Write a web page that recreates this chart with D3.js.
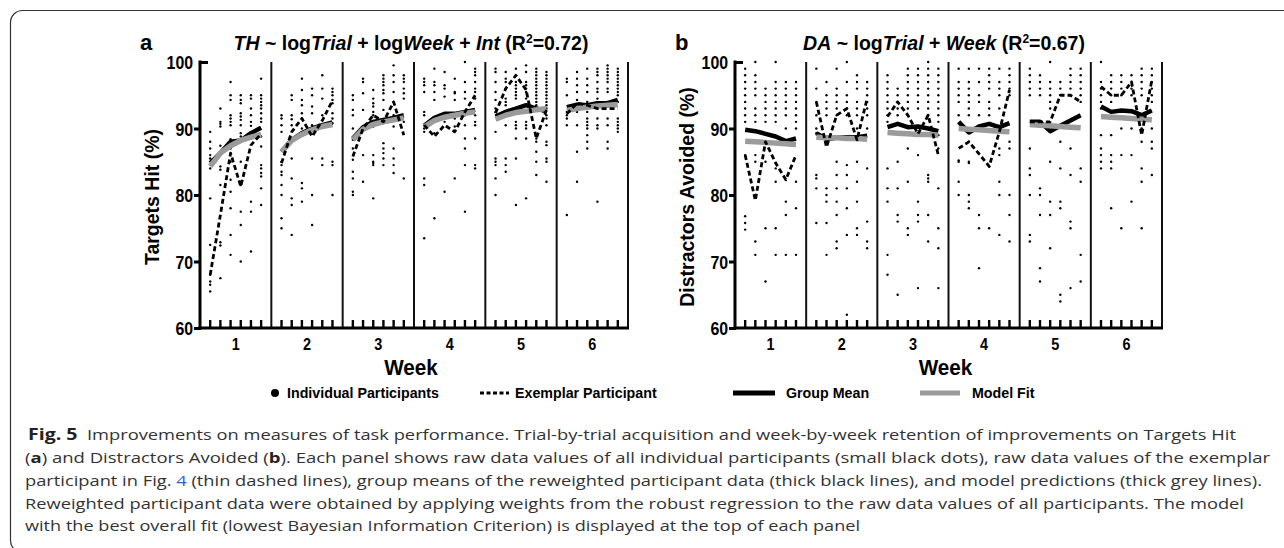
<!DOCTYPE html>
<html><head><meta charset="utf-8">
<script src="https://cdn.jsdelivr.net/npm/d3@7"></script>
<style>body{margin:0;background:#fff}svg{display:block}</style>
</head><body><svg id="c" width="1284" height="548"></svg>
<script>
// ---------- DATA ----------
const weeks = [1, 2, 3, 4, 5, 6];
const trials = [1, 2, 3, 4, 5, 6];
const yTicks = [60, 70, 80, 90, 100];

// Panel a: Targets Hit (%) — individual participant dots [week][trial]
const thDots = [
  [[89.5,88,87,86,85.5,84,79.5,72.5,68,67,66.5,65.5],
   [93,91,90.7,90.3,87.4,84.3,83.8,81.5,72.9,72.4,67.5],
   [97,95,94.3,92,91.5,91,90.5,88.4,87,85,82.3,80.5,78,74,71],
   [95,94.3,93.8,92.3,91.8,91.3,90.5,89.3,88.8,85,81.5,77.5,75.5,70],
   [95,94.5,93,92,91,90.4,88.5,79,77.5,71.5],
   [97.5,95,94.5,94,93.5,93,92.3,91.5,91,88.8,87.3,84.5,84,83.3,82.8,81,78.5]],
  [[92,91.5,90.5,89.5,85,84.5,83.5,83,81.5,80,76.5,75],
   [95,94.3,92,91.4,90.5,85.5,82.5,79.5,78.5,74],
   [97.5,95.8,94.3,93.5,92.3,91.5,90,81.8,81,79],
   [96,95,93.3,92.3,90.5,85.5,80,75.5],
   [98,96,94.5,92,90.3,85.5,84.5],
   [96,95.5,95,94.3,93.8,92.3,91.5,90.8,85,84.5,80]],
  [[95,94.3,92.8,92,90,88.3,87,85.3,83.5,82.5,80.5,80],
   [97.5,97,95.3,92.8,86,82],
   [95.8,94.5,93.8,93.3,92.5,92,90.3,86,85,84.8,84.5,79.5],
   [98,97.5,97,96.5,95.8,95.3,94.3,92.8,87.8,87,86.3,85.5,84.5],
   [99.5,98,97,95.5,94,92,90.3,87,85.5,84.5,83.3],
   [98,97.5,97,96,95.3,94.5,91,82.5]],
  [[97.5,97,96.5,95.5,92.5,92,90.5,90,89.5,82.5,81.5,73.5],
   [99,97,96.5,95.5,94.3,89.3,76.5],
   [98.5,96.5,96,94.8,92,91,80.5],
   [97.5,95.5,95.3,94.3,92,91.5,90.3,82.5],
   [100,97,95.5,94.5,92,90.5,88.5,87,84.5,77.5],
   [99,98.5,98,97,96,95.5,94.5,92,91,90.5,88.5,84.5,84]],
  [[99,98.5,97,95.5,94.3,93,92.5,89.5,85.5,85,84.5,82.5,80],
   [98.5,97.5,97,96,94.5,94,93.5,90.5,85.5,84.5,83.5],
   [99,97,96.5,96,95.5,95,94.5,91,90.5,90,88.5,85.5,78.5],
   [99.5,98.5,97,96.5,96,95.5,94.5,91,90.5,90,88.5,79.5],
   [99,98.5,98,97.5,97,96.5,96,95.5,95,94.5,94,93.5,88.5,88,86.5,85,83],
   [98.5,98,97.5,97,96.5,96,95.5,95,94.5,94,93.5,93,92,91.5,90.5,88,87.5,85.5,85,82]],
  [[97.5,97,95,92.5,92,91.5,90.5,77],
   [98.5,97.5,96.5,95.5,94.3,92.5,90.5,86.5,82],
   [99,97.5,96.5,95.5,94,92.5,91.5,91,90.5,90,89,88,87],
   [99,98.5,98,97,96,95.5,94.5,91.5,90.5,90,79],
   [99.5,99,98.5,98,97.5,97,96,95.5,94,91.5,90.5,88,87],
   [99,98.5,98,97.5,97,96.5,96,95.5,95,94,91.5,91,90.5,90,89.5]]
];
const thExemplar = [
  [68, 77, 86.3, 81.3, 87.5, 89.2],
  [84.8, 89.5, 91.5, 88.8, 91.2, 94.2],
  [85.8, 90, 92, 91, 94, 89],
  [90.5, 88.8, 90.5, 89.5, 92.5, 95],
  [92.3, 96, 98, 95.8, 88.5, 92.8],
  [92.2, 93.8, 93.5, 93, 93, 93]
];
const thMean = [
  [84.8, 86.3, 88, 88.2, 89.3, 90.1],
  [86.5, 88.3, 89.3, 90, 90.5, 90.9],
  [88.5, 90.2, 91, 91.3, 91.6, 92],
  [90.4, 91.6, 92.2, 92.2, 92.5, 92.8],
  [91.8, 92.5, 93, 93.5, 93, 92.6],
  [93.2, 93.6, 93.5, 93.8, 93.8, 94.3]
];
const thFit = [
  [84.3, 86.3, 87.4, 88.2, 88.7, 89.1],
  [86.5, 88.2, 89.1, 89.8, 90.3, 90.6],
  [88.3, 89.9, 90.6, 91.0, 91.3, 91.6],
  [90.2, 91.2, 91.7, 92.0, 92.3, 92.5],
  [91.4, 92.0, 92.4, 92.6, 92.8, 93.0],
  [92.7, 93.0, 93.2, 93.4, 93.5, 93.6]
];

// Panel b: Distractors Avoided (%)
const daDots = [
  [[99,98,97,96,95,94,93,92,91,86,76.8,75.8,74.8],
   [100,98,97,96,95,93,92,91,86,85,73,71],
   [96,95,94,93,92,91,85,75,67],
   [100,97,96,95,94,93,92,91,84,82,75,71],
   [97,96,95,94,93,92,90,79,77,71],
   [97,96,95,94,93,92,91,90,82,78,71]],
  [[99,96,94,92,90,89.3,83,82.5,81,75.8],
   [97,95,94,93,92,81,80,79,75.8,71],
   [99,96,95,94,93,92,85,83,81,79,77,73,72],
   [100,97,95,94,93,92,84.5,83,81,78,74,62],
   [98,97,96,94,93,92,90,88.3,85,82,79,75,74],
   [97,96,95,94,93,92,90,84,76,73,72]],
  [[98,97,96,95,94,93,92,91,84,81,79,71,68],
   [96,95,94,93,92,85,81,77,76,65],
   [99,98,97,96,95,94,93,92,87,82,75,74],
   [99,98,97,96,95,94,93,89,86,79,77,76,66],
   [100,99,98,97,96,95,94,93,92,83,82.5,82,77,73],
   [99,98,97,96,95,94,93,92,91,89,87,81,75,72,66]],
  [[99,97,96,95,94,92,85.2,85,82,80],
   [99,97,96,95,94,93,92,88,85,84.8,80,79,78],
   [99,97,95,94,92,77,75,69],
   [99,98,97,96,94,93,92,84.3,75],
   [99,97,96,95,93,87,86,82,80,74],
   [99,98,97,96,95,88,87,80,77,73]],
  [[99,98,97,96,95,87,84,83,80,74,73],
   [98,97,96,95,81,80,77,69,67],
   [100,97,96,95,94,93,85,79,77,72],
   [97,96,95,88,84,79,78,65,64],
   [99,98,97,96,87,83,76,75,66],
   [99,98,97,96,95,94,84,82,71,67]],
  [[100,97,96,95,94,93,89,87,86,85,84],
   [98,97,96,95,94,89,86,85,84,78],
   [98,97,96,95,90,86,75],
   [98,97,96,95,90,86,79],
   [99,98,97,96,95,90,88,84,82,75],
   [99,98,97,96,95,94,90,88,87,83]]
];
const daExemplar = [
  [86, 79.2, 88, 84.8, 82.3, 86],
  [94, 87.2, 92, 93, 88.3, 94.5],
  [91.8, 94, 92, 89.2, 92, 86],
  [87, 88, 86.2, 84.3, 89.5, 95.8],
  [91, 91, 91, 95, 95, 94],
  [96.3, 95, 95, 97, 89, 97.3]
];
const daMean = [
  [89.8, 89.6, 89.2, 88.8, 88.1, 88.5],
  [89.3, 88.4, 88.6, 88.7, 88.7, 88.9],
  [90.2, 90.7, 90.2, 90.3, 90.0, 89.6],
  [91, 89.4, 90.3, 90.7, 90.2, 90.8],
  [91, 91, 89.6, 90.4, 91.2, 92],
  [93.3, 92.5, 92.7, 92.6, 92, 92.7]
];
const daFit = [
  [88.1, 88.0, 87.9, 87.8, 87.7, 87.6],
  [88.7, 88.6, 88.6, 88.5, 88.5, 88.4],
  [89.4, 89.3, 89.2, 89.1, 89.1, 89.0],
  [90.0, 89.9, 89.8, 89.7, 89.6, 89.5],
  [90.6, 90.5, 90.4, 90.3, 90.2, 90.1],
  [91.8, 91.7, 91.6, 91.5, 91.4, 91.3]
];

const legendItems = ["Individual Participants", "Exemplar Participant", "Group Mean", "Model Fit"];

// ---------- DRAW ----------
const FONT = "'Liberation Sans', Arial, Helvetica, sans-serif";
const svg = d3.select("#c");

// figure frame
svg.append("rect").attr("x", 10.5).attr("y", 10.5).attr("width", 1300).attr("height", 542)
  .attr("rx", 12).attr("fill", "none").attr("stroke", "#333").attr("stroke-width", 1.2);

const Y = d3.scaleLinear().domain([60, 100]).range([328, 62]);

function panel(o) {
  const g = svg.append("g");
  const xw = d3.scaleBand().domain(weeks).range([o.x0, o.x1]);
  const xt = d3.scaleLinear().domain([0, 7]).range([0, xw.bandwidth()]);
  const X = (w, t) => xw(w) + xt(t);

  // dots
  const dotData = [];
  weeks.forEach((w, wi) => trials.forEach((t, ti) => o.dots[wi][ti].forEach(v => dotData.push({w, t, v}))));
  g.append("g").selectAll("circle").data(dotData).join("circle")
    .attr("cx", d => X(d.w, d.t)).attr("cy", d => Y(d.v)).attr("r", 1.2).attr("fill", "#000");

  const line = d3.line().x(d => X(d.w, d.t)).y(d => Y(d.v));
  function series(arr, stroke, width, dash) {
    g.append("g").selectAll("path").data(weeks.map((w, wi) => trials.map((t, ti) => ({w, t, v: arr[wi][ti]}))))
      .join("path").attr("d", line).attr("fill", "none").attr("stroke", stroke)
      .attr("stroke-width", width).attr("stroke-dasharray", dash || null)
      .attr("stroke-linejoin", "round");
  }
  series(o.mean, "#000", 4.5);
  series(o.fit, "#9b9b9b", 5.5);
  series(o.ex, "#000", 2.8, "5,3");

  // week dividers + right border
  g.append("g").selectAll("line").data(weeks).join("line")
    .attr("x1", w => xw(w) + xw.bandwidth()).attr("x2", w => xw(w) + xw.bandwidth())
    .attr("y1", Y(100)).attr("y2", Y(60)).attr("stroke", "#111").attr("stroke-width", 2);

  // trial ticks on x axis
  const tickData = [];
  weeks.forEach(w => trials.forEach(t => tickData.push({w, t})));
  g.append("g").selectAll("line").data(tickData).join("line")
    .attr("x1", d => X(d.w, d.t)).attr("x2", d => X(d.w, d.t))
    .attr("y1", Y(60)).attr("y2", Y(60) - 8).attr("stroke", "#000").attr("stroke-width", 2.4);

  // x axis (week labels)
  const xa = g.append("g").attr("transform", `translate(0,${Y(60)})`)
    .call(d3.axisBottom(xw).tickSize(0).tickPadding(10));
  xa.select(".domain").attr("stroke", "#000").attr("stroke-width", 3)
    .attr("d", `M${o.x0 - 1.5},0H${o.x1 + 1}`);
  xa.selectAll("text").attr("font-family", FONT).attr("font-weight", "bold")
    .attr("font-size", 17).attr("fill", "#000").attr("transform", "scale(0.85,1)");

  // y axis
  const ya = g.append("g").attr("transform", `translate(${o.x0},0)`)
    .call(d3.axisLeft(Y).tickValues(yTicks).tickSize(6).tickPadding(3));
  ya.select(".domain").attr("stroke", "#000").attr("stroke-width", 3)
    .attr("d", `M0,${Y(100) - 1.5}V${Y(60) + 1.5}`);
  ya.selectAll(".tick line").attr("stroke", "#000").attr("stroke-width", 3)
    .attr("x1", 1).attr("x2", d => d === 100 ? 8 : -6);
  ya.selectAll(".tick text").attr("font-family", FONT).attr("font-weight", "bold")
    .attr("font-size", 18.5).attr("fill", "#000").attr("x", -8).attr("dy", "0.36em")
    .attr("transform", "scale(0.86,1)");

  // axis titles
  g.append("text").attr("transform", `translate(${o.x0 - 41},197) rotate(-90)`)
    .attr("text-anchor", "middle").attr("font-family", FONT).attr("font-weight", "bold")
    .attr("font-size", 19.5).text(o.ylabel);
  const cx = (o.x0 + o.x1) / 2 - 3;
  g.append("text").attr("x", cx).attr("y", 375).attr("text-anchor", "middle")
    .attr("font-family", FONT).attr("font-weight", "bold").attr("font-size", 22)
    .attr("transform", `translate(${cx * 0.06},0) scale(0.94,1)`)
    .text("Week");

  // panel letter
  g.append("text").attr("x", o.x0 - 60).attr("y", 50).attr("font-family", FONT)
    .attr("font-weight", "bold").attr("font-size", 22).text(o.letter);

  // model formula title
  const tt = g.append("text").attr("x", o.titleX).attr("y", 50).attr("text-anchor", "middle")
    .attr("font-family", FONT).attr("font-weight", "bold").attr("font-size", 19.5);
  o.title.forEach(p => {
    const ts = tt.append("tspan").text(p[0]);
    if (p[1] === "i") ts.attr("font-style", "italic");
    if (p[1] === "sup") ts.attr("font-size", 12).attr("dy", -7);
    if (p[1] === "after") ts.attr("dy", 7);
  });
}

panel({x0: 200, x1: 628, dots: thDots, ex: thExemplar, mean: thMean, fit: thFit,
  ylabel: "Targets Hit (%)", letter: "a", titleX: 411,
  title: [["TH", "i"], [" ~ log"], ["Trial", "i"], [" + log"], ["Week", "i"], [" + "], ["Int", "i"], [" (R"], ["2", "sup"], ["=0.72)", "after"]]});
panel({x0: 735, x1: 1162, dots: daDots, ex: daExemplar, mean: daMean, fit: daFit,
  ylabel: "Distractors Avoided (%)", letter: "b", titleX: 944,
  title: [["DA", "i"], [" ~ log"], ["Trial", "i"], [" + "], ["Week", "i"], [" (R"], ["2", "sup"], ["=0.67)", "after"]]});

// ---------- LEGEND ----------
const lg = svg.append("g").attr("font-family", FONT).attr("font-weight", "bold").attr("font-size", 15.5);
const ly = 393;
lg.append("circle").attr("cx", 275).attr("cy", ly).attr("r", 4).attr("fill", "#000");
lg.append("line").attr("x1", 480).attr("x2", 509).attr("y1", ly).attr("y2", ly)
  .attr("stroke", "#000").attr("stroke-width", 3).attr("stroke-dasharray", "4,2.5");
lg.append("line").attr("x1", 733).attr("x2", 775).attr("y1", ly).attr("y2", ly)
  .attr("stroke", "#000").attr("stroke-width", 5);
lg.append("line").attr("x1", 920).attr("x2", 960).attr("y1", ly).attr("y2", ly)
  .attr("stroke", "#9b9b9b").attr("stroke-width", 5);
const lx = [287, 515, 786, 972];
legendItems.forEach((t, i) => {
  lg.append("text").attr("x", lx[i] / 0.92).attr("y", ly + 5.5)
    .attr("transform", "scale(0.92,1)").text(t);
});

// ---------- CAPTION ----------
const CF = "'Open Sans', 'Noto Sans', sans-serif";
const cap = svg.append("g").attr("font-family", CF).attr("font-size", 15).attr("fill", "#333");
const capLines = [
  {y: 440, end: 1236, parts: [["Fig. 5", "b"], ["  Improvements on measures of task performance. Trial-by-trial acquisition and week-by-week retention of improvements on Targets Hit"]]},
  {y: 463, end: 1270, parts: [["("], ["a", "b"], [") and Distractors Avoided ("], ["b", "b"], ["). Each panel shows raw data values of all individual participants (small black dots), raw data values of the exemplar"]]},
  {y: 486, end: 1262, parts: [["participant in Fig. "], ["4", "blue"], [" (thin dashed lines), group means of the reweighted participant data (thick black lines), and model predictions (thick grey lines)."]]},
  {y: 508.5, end: 1244, parts: [["Reweighted participant data were obtained by applying weights from the robust regression to the raw data values of all participants. The model"]]},
  {y: 531, end: 860, parts: [["with the best overall fit (lowest Bayesian Information Criterion) is displayed at the top of each panel"]]}
];
capLines.forEach((L, i) => {
  const x0 = i === 0 ? 28 : 25;
  const t = cap.append("text").attr("x", x0).attr("y", L.y).attr("xml:space", "preserve")
    .attr("textLength", L.end - x0).attr("lengthAdjust", "spacingAndGlyphs");
  L.parts.forEach(p => {
    const ts = t.append("tspan").text(p[0]);
    if (p[1] === "b") ts.attr("font-weight", "bold").attr("fill", "#222").attr("font-size", p[0] === "Fig. 5" ? 16 : 15);
    if (p[1] === "blue") ts.attr("fill", "#2b62c9");
  });
});
</script></body></html>
